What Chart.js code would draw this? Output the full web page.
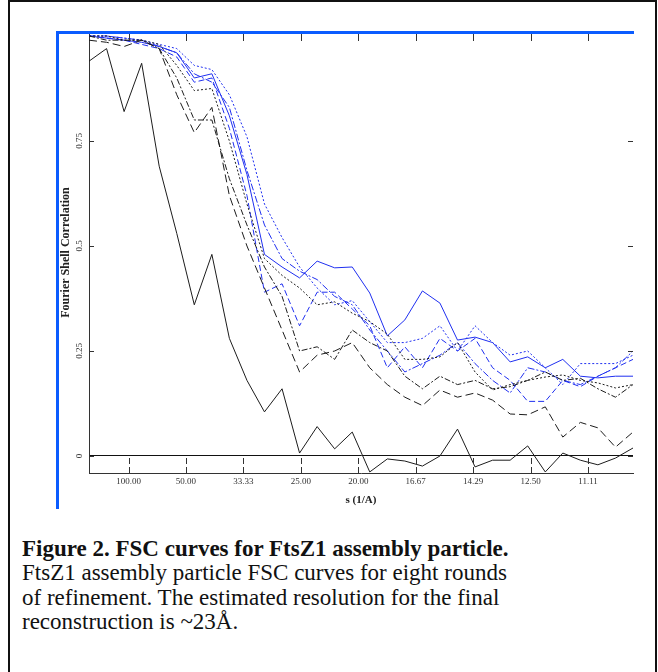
<!DOCTYPE html>
<html>
<head>
<meta charset="utf-8">
<script src="https://cdn.jsdelivr.net/npm/chart.js@4"></script>
<style>
  html, body { margin: 0; padding: 0; background: #fff; overflow: hidden; }
  body { width: 658px; height: 672px; position: relative; }
  #frame { position: absolute; left: 8px; top: 0; width: 649px; height: 700px; box-sizing: border-box;
           border: 2px solid #111; border-bottom: none; }
  #chart { position: absolute; left: 0; top: 0; }
  .blue { position: absolute; background: #0a5cff; z-index: 2; }
  #caption { position: absolute; left: 22px; top: 537px; font-family: "Liberation Serif", serif;
             font-size: 23px; line-height: 24.4px; color: #111; white-space: nowrap; }
</style>
</head>
<body>
<div id="frame"></div>
<div class="blue" style="left:56px; top:31px; width:578px; height:3px;"></div>
<div class="blue" style="left:56px; top:31px; width:3px; height:478px;"></div>
<canvas id="chart" width="658" height="507"></canvas>
<div id="caption"><b>Figure 2. FSC curves for FtsZ1 assembly particle.</b><br>FtsZ1 assembly particle FSC curves for eight rounds<br>of refinement. The estimated resolution for the final<br>reconstruction is ~23Å.</div>
<script>
// spatial frequency of each shell, 1/Å
const sVals = [0.00312, 0.00618, 0.00923, 0.01229, 0.01534, 0.01840, 0.02145, 0.02451,
               0.02756, 0.03062, 0.03367, 0.03673, 0.03978, 0.04284, 0.04589, 0.04895,
               0.05200, 0.05506, 0.05811, 0.06117, 0.06422, 0.06728, 0.07033, 0.07339,
               0.07644, 0.07950, 0.08256, 0.08561, 0.08867, 0.09172, 0.09478, 0.09783];
const xTicks = [0.01, 0.02, 0.03, 0.04, 0.05, 0.06, 0.07, 0.08, 0.09];
const yTicks = [0, 0.25, 0.5, 0.75];

// FSC per refinement round (black rounds 1-4, blue rounds 5-8)
const round1 = [0.94, 0.97, 0.82, 0.935, 0.69, 0.53, 0.36, 0.48, 0.28, 0.18, 0.105, 0.16,
                0.007, 0.07, 0.017, 0.057, -0.038, -0.007, -0.012, -0.024, 0.0, 0.064, -0.026, -0.01,
                -0.01, 0.024, -0.038, 0.007, -0.01, -0.021, -0.005, 0.019];
const round2 = [0.99, 0.985, 0.975, 0.99, 0.97, 0.86, 0.77, 0.83, 0.62, 0.50, 0.40, 0.30,
                0.20, 0.24, 0.25, 0.27, 0.21, 0.17, 0.14, 0.12, 0.157, 0.14, 0.15, 0.133,
                0.10, 0.098, 0.117, 0.045, 0.08, 0.067, 0.021, 0.057];
const round3 = [1.0, 0.99, 0.99, 0.99, 0.97, 0.90, 0.80, 0.80, 0.66, 0.55, 0.45, 0.38,
                0.25, 0.26, 0.23, 0.30, 0.27, 0.25, 0.19, 0.16, 0.19, 0.17, 0.18, 0.16,
                0.165, 0.18, 0.20, 0.18, 0.185, 0.16, 0.14, 0.17];
const round4 = [1.0, 1.0, 0.99, 0.99, 0.98, 0.93, 0.87, 0.875, 0.75, 0.60, 0.47, 0.43,
                0.40, 0.36, 0.367, 0.34, 0.32, 0.29, 0.23, 0.23, 0.236, 0.27, 0.20, 0.157,
                0.17, 0.18, 0.188, 0.193, 0.18, 0.174, 0.162, 0.17];
const round5 = [1.0, 0.995, 0.99, 0.985, 0.975, 0.96, 0.90, 0.91, 0.81, 0.67, 0.48, 0.45,
                0.424, 0.464, 0.448, 0.45, 0.388, 0.286, 0.324, 0.393, 0.364, 0.276, 0.283, 0.27,
                0.224, 0.236, 0.21, 0.23, 0.19, 0.186, 0.19, 0.19];
const round6 = [1.0, 0.995, 0.99, 0.98, 0.97, 0.95, 0.89, 0.90, 0.78, 0.62, 0.39, 0.41,
                0.31, 0.39, 0.39, 0.35, 0.31, 0.21, 0.26, 0.21, 0.28, 0.25, 0.28, 0.21,
                0.18, 0.13, 0.13, 0.18, 0.165, 0.19, 0.21, 0.23];
const round7 = [1.0, 1.0, 0.995, 0.99, 0.98, 0.97, 0.93, 0.92, 0.86, 0.76, 0.60, 0.52,
                0.45, 0.40, 0.36, 0.37, 0.32, 0.27, 0.27, 0.28, 0.31, 0.25, 0.31, 0.27,
                0.24, 0.25, 0.21, 0.17, 0.22, 0.22, 0.22, 0.24];
const round8 = [1.0, 1.0, 0.995, 0.99, 0.975, 0.96, 0.91, 0.89, 0.83, 0.68, 0.55, 0.47,
                0.44, 0.42, 0.38, 0.36, 0.30, 0.25, 0.20, 0.22, 0.24, 0.27, 0.22, 0.18,
                0.15, 0.21, 0.20, 0.18, 0.17, 0.19, 0.21, 0.25];

const black = '#1c1c1c';
const blue = '#1f2ff0';
const serif = '"Liberation Serif", "Times New Roman", serif';

function curve(label, values, color, dash) {
    return {
        label,
        data: values.map((v, i) => ({ x: sVals[i], y: v })),
        borderColor: color,
        borderWidth: 1,
        borderDash: dash,
        pointRadius: 0,
        tension: 0,
        fill: false,
    };
}

// inward tick marks on all four sides
const tickMarks = {
    id: 'tickMarks',
    afterDraw(chart) {
        const { ctx, chartArea: a, scales: { x, y } } = chart;
        const zero = y.getPixelForValue(0);
        ctx.save();
        ctx.strokeStyle = '#333';
        ctx.lineWidth = 1;
        ctx.beginPath();
        for (const v of xTicks) {
            const px = Math.round(x.getPixelForValue(v)) + 0.5;
            ctx.moveTo(px, a.top);
            ctx.lineTo(px, a.top + 9);
        }
        for (const v of yTicks) {
            const py = Math.round(y.getPixelForValue(v)) + 0.5;
            ctx.moveTo(a.left, py);
            ctx.lineTo(a.left + 5, py);
            ctx.moveTo(a.right, py);
            ctx.lineTo(a.right - 5, py);
        }
        ctx.stroke();
        ctx.setLineDash([6, 3]);
        ctx.beginPath();
        for (const v of xTicks) {
            const px = Math.round(x.getPixelForValue(v)) + 0.5;
            ctx.moveTo(px, a.bottom);
            ctx.lineTo(px, zero);
        }
        ctx.stroke();
        ctx.restore();
    },
};

new Chart(document.getElementById('chart'), {
    type: 'line',
    data: {
        datasets: [
            curve('Round 1', round1, black, []),
            curve('Round 2', round2, black, [8, 4]),
            curve('Round 3', round3, black, [6, 2, 2, 2]),
            curve('Round 4', round4, black, [2, 2]),
            curve('Round 5', round5, blue, []),
            curve('Round 6', round6, blue, [6, 3]),
            curve('Round 7', round7, blue, [2, 2]),
            curve('Round 8', round8, blue, [7, 2, 2, 2]),
        ],
    },
    options: {
        responsive: false,
        animation: false,
        layout: { padding: { top: 32, right: 25, left: 0, bottom: 0 } },
        plugins: { legend: { display: false }, tooltip: { enabled: false } },
        scales: {
            x: {
                type: 'linear',
                position: 'bottom',
                min: 0.00312,
                max: 0.09783,
                afterFit: s => { s.height = 34; },
                afterBuildTicks: s => { s.ticks = xTicks.map(v => ({ value: v })); },
                ticks: {
                    callback: v => (1 / v).toFixed(2),
                    font: { family: serif, size: 9 },
                    color: '#333',
                    padding: 3,
                    maxRotation: 0,
                    autoSkip: false,
                },
                grid: { display: false, drawTicks: false },
                border: { display: true, color: '#333', width: 1 },
                title: {
                    display: true,
                    text: 's (1/A)',
                    font: { family: serif, size: 11, weight: 'bold' },
                    color: '#222',
                    padding: { top: 0, bottom: 0 },
                },
            },
            y: {
                min: -0.0405,
                max: 1.0095,
                afterFit: s => { s.width = 89; },
                afterBuildTicks: s => { s.ticks = yTicks.map(v => ({ value: v })); },
                ticks: {
                    callback: v => String(v),
                    font: { family: serif, size: 9 },
                    color: '#333',
                    padding: 1,
                    minRotation: 90,
                    maxRotation: 90,
                    crossAlign: 'center',
                },
                grid: {
                    drawTicks: false,
                    color: c => (c.tick && c.tick.value === 0 ? '#111' : 'rgba(0,0,0,0)'),
                    lineWidth: 1,
                },
                border: { display: true, color: '#333', width: 1 },
                title: {
                    display: true,
                    text: 'Fourier Shell Correlation',
                    font: { family: serif, size: 12, weight: 'bold' },
                    color: '#222',
                    padding: { top: 59, bottom: 0 },
                },
            },
        },
    },
    plugins: [tickMarks],
});
</script>
</body>
</html>
